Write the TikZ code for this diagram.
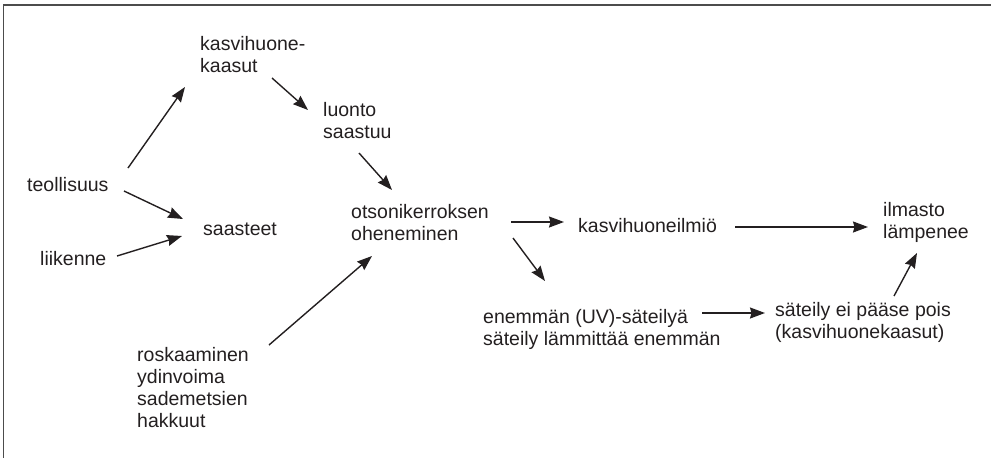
\documentclass[tikz,border=0pt]{standalone}
\usepackage{fontspec}
\setmainfont{Liberation Sans}
\usetikzlibrary{arrows.meta,calc}
\definecolor{ink}{HTML}{231F20}
\tikzset{
  lbl/.style={anchor=base west, inner sep=0pt, align=left, text=ink,
    font=\fontsize{19.5}{21.7}\selectfont},
  arr/.style={draw=ink, line width=1.4pt,
    -{Stealth[length=15pt,width=11pt,inset=1.5pt]}},
  frame/.style={draw=black!70, line width=1.4pt}
}
\begin{document}
\begin{tikzpicture}[x=1pt,y=-1pt]
\useasboundingbox (0,0) rectangle (991,458);
% open frame: left and top edges only
\draw[frame] (3.5,458) -- (3.5,5) -- (991,5);

% labels (anchored at the baseline of their last line)
\node[lbl] (teo) at (27,191)  {teollisuus};
\node[lbl] (kas) at (200,72)  {kasvihuone-\\kaasut};
\node[lbl] (luo) at (323,138) {luonto\\saastuu};
\node[lbl] (ots) at (351,240) {otsonikerroksen\\oheneminen};
\node[lbl] (saa) at (203,235) {saasteet};
\node[lbl] (lii) at (40,265)  {liikenne};
\node[lbl] (ros) at (137,427) {roskaaminen\\ydinvoima\\sademetsien\\hakkuut};
\node[lbl] (kil) at (578,232) {kasvihuoneilmiö};
\node[lbl] (ilm) at (883,238) {ilmasto\\lämpenee};
\node[lbl] (ene) at (483,345) {enemmän (UV)-säteilyä\\säteily lämmittää enemmän};
\node[lbl] (sat) at (775,338) {säteily ei pääse pois\\(kasvihuonekaasut)};

% connectors
\draw[arr] ($(teo.base west)+(101,-23)$) -- ($(kas.base west)+(-15,15)$);
\draw[arr] ($(teo.base west)+(97,0)$)    -- ($(saa.base west)+(-20,-16)$);
\draw[arr] ($(lii.base west)+(77,-9)$)   -- ($(saa.base west)+(-21,1)$);
\draw[arr] ($(kas.base west)+(72,6)$)    -- ($(luo.base west)+(-15,-28)$);
\draw[arr] ($(luo.base west)+(36,15)$)   -- ($(ots.base west)+(41,-50)$);
\draw[arr] ($(ros.base west)+(132,-82)$) -- ($(ots.base west)+(21,16)$);
\draw[arr] ($(ots.base west)+(160,-18)$) -- ($(kil.base west)+(-14,-10)$);
\draw[arr] ($(ots.base west)+(162,-2)$)  -- ($(ene.base west)+(62,-64)$);
\draw[arr] ($(kil.base west)+(157,-5)$)  -- ($(ilm.base west)+(-15,-11)$);
\draw[arr] ($(ene.base west)+(219,-32)$) -- ($(sat.base west)+(-10,-25)$);
\draw[arr] ($(sat.base west)+(119,-42)$) -- ($(ilm.base west)+(34,15)$);
\end{tikzpicture}
\end{document}
